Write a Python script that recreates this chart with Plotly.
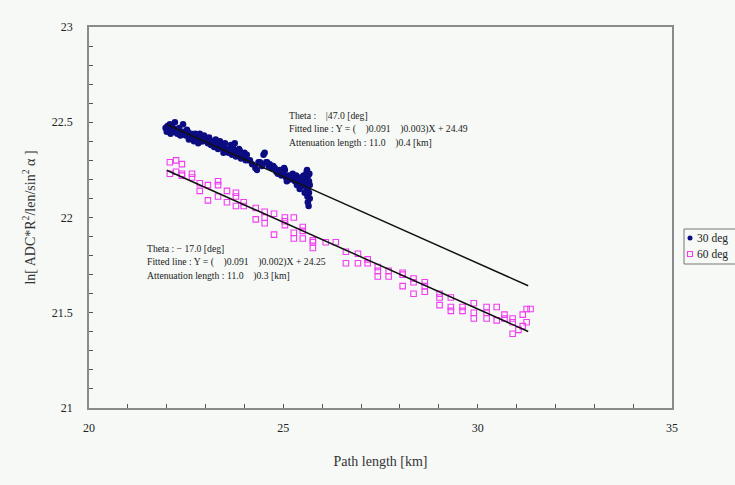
import plotly.graph_objects as go

# 30 deg sample: path length [km] and ln(ADC*R^2/len/sin^2 a)
x30 = [21.97, 22.00, 22.02, 22.05, 22.08, 22.10, 22.13, 22.16, 22.18, 22.21,
       22.24, 22.27, 22.29, 22.32, 22.35, 22.39, 22.42, 22.45, 22.49, 22.52,
       22.54, 22.57, 22.60, 22.63, 22.67, 22.70, 22.73, 22.76, 22.78, 22.81,
       22.85, 22.88, 22.90, 22.93, 22.96, 23.00, 23.03, 23.06, 23.09, 23.11,
       23.14, 23.17, 23.19, 23.22, 23.26, 23.29, 23.32, 23.35, 23.37, 23.40,
       23.42, 23.46, 23.50, 23.53, 23.56, 23.59, 23.62, 23.65, 23.68, 23.70,
       23.73, 23.75, 23.78, 23.80, 23.83, 23.86, 23.88, 23.91, 23.96, 24.00,
       24.03, 24.06, 24.10, 24.14, 24.20, 24.28, 24.32, 24.36, 24.40, 24.45,
       24.49, 24.52, 24.56, 24.58, 24.62, 24.65, 24.70, 24.74, 24.78, 24.82,
       24.86, 24.91, 24.95, 24.99, 25.02, 25.04, 25.07, 25.09, 25.13, 25.17,
       25.21, 25.24, 25.27, 25.30, 25.33, 25.35, 25.37, 25.40, 25.42, 25.45,
       25.48, 25.50, 25.52, 25.55, 25.57, 25.58, 25.60, 25.61, 25.61, 25.62,
       25.63, 25.63, 25.64, 25.65, 25.66, 25.66, 25.67, 25.68, 25.68]
y30 = [22.47, 22.45, 22.48, 22.46, 22.49, 22.44, 22.47, 22.47, 22.45, 22.50,
       22.46, 22.44, 22.45, 22.47, 22.43, 22.44, 22.49, 22.45, 22.43, 22.46,
       22.45, 22.41, 22.42, 22.44, 22.43, 22.40, 22.44, 22.42, 22.41, 22.39,
       22.44, 22.42, 22.40, 22.40, 22.43, 22.41, 22.41, 22.39, 22.42, 22.39,
       22.38, 22.40, 22.40, 22.37, 22.41, 22.38, 22.36, 22.39, 22.40, 22.37,
       22.37, 22.34, 22.39, 22.36, 22.35, 22.34, 22.35, 22.38, 22.33, 22.37,
       22.35, 22.39, 22.32, 22.34, 22.33, 22.36, 22.35, 22.31, 22.32, 22.34,
       22.30, 22.33, 22.30, 22.30, 22.28, 22.26, 22.25, 22.29, 22.29, 22.27,
       22.33, 22.34, 22.29, 22.29, 22.27, 22.28, 22.26, 22.27, 22.26, 22.24,
       22.23, 22.25, 22.22, 22.23, 22.26, 22.25, 22.21, 22.19, 22.22, 22.20,
       22.21, 22.23, 22.20, 22.19, 22.22, 22.17, 22.20, 22.18, 22.15, 22.21,
       22.19, 22.17, 22.22, 22.13, 22.16, 22.20, 22.24, 22.25, 22.18, 22.11,
       22.08, 22.15, 22.22, 22.06, 22.19, 22.13, 22.23, 22.17, 22.10]

# 60 deg sample
x60 = [22.08, 22.08, 22.24, 22.24, 22.39, 22.39, 22.39, 22.65, 22.65,
       22.85, 22.85, 23.06, 23.06, 23.32, 23.32, 23.32, 23.55, 23.55,
       23.78, 23.78, 23.78, 23.98, 23.98, 24.29, 24.29, 24.52, 24.52, 24.52,
       24.76, 24.76, 25.04, 25.04, 25.04, 25.27, 25.27, 25.27, 25.50, 25.50,
       25.50, 25.76, 25.76, 25.76, 26.09, 26.35, 26.61, 26.61, 26.92, 26.92,
       27.17, 27.17, 27.43, 27.43, 27.43, 27.71, 27.71, 28.07, 28.07, 28.07,
       28.35, 28.35, 28.35, 28.64, 28.64, 28.64, 29.02, 29.02, 29.02,
       29.31, 29.31, 29.31, 29.61, 29.61, 29.90, 29.90, 29.90, 30.23, 30.23,
       30.23, 30.49, 30.49, 30.69, 30.69, 30.90, 30.90, 30.90, 31.05, 31.16,
       31.16, 31.26, 31.26, 31.36]
y60 = [22.29, 22.23, 22.30, 22.24, 22.28, 22.23, 22.22, 22.23, 22.21,
       22.18, 22.14, 22.17, 22.09, 22.19, 22.17, 22.11, 22.14, 22.08,
       22.13, 22.11, 22.06, 22.08, 22.06, 22.05, 21.99, 22.03, 22.00, 21.97,
       22.02, 21.91, 22.00, 21.98, 21.96, 22.00, 21.92, 21.89, 21.95, 21.93,
       21.89, 21.88, 21.87, 21.84, 21.87, 21.87, 21.82, 21.76, 21.81, 21.76,
       21.78, 21.76, 21.74, 21.72, 21.69, 21.72, 21.69, 21.71, 21.70, 21.64,
       21.68, 21.66, 21.60, 21.66, 21.64, 21.61, 21.60, 21.58, 21.54,
       21.58, 21.53, 21.51, 21.53, 21.51, 21.55, 21.50, 21.47, 21.53, 21.50,
       21.47, 21.53, 21.46, 21.49, 21.47, 21.47, 21.45, 21.39, 21.41, 21.43,
       21.49, 21.52, 21.45, 21.52]

# Fitted lines Y = slope * X + intercept over the fitted range
fit_slopes = [-0.091, -0.091]
fit_intercepts = [24.49, 24.25]
fit_range = [22.0, 31.3]

x_ticks = [20, 25, 30, 35]
y_ticks = [21, 21.5, 22, 22.5, 23]
series_names = ["30 deg", "60 deg"]

W, H = 735, 485
L, R, T, B = 89, 63, 27, 77          # plot frame margins in px
PW, PH = W - L - R, H - T - B


def px_x(p):
    return (p - L) / PW


def px_y(p):
    return (H - B - p) / PH


serif = "Liberation Serif, Times New Roman, serif"
bg = "#f6f9f6"
navy = "#0c0c82"
magenta = "#f23cf2"

fig = go.Figure()

fig.add_trace(go.Scatter(
    x=x30, y=y30, mode="markers", name=series_names[0], showlegend=False,
    marker=dict(symbol="circle", size=6.5, color=navy, line=dict(width=0)),
))
fig.add_trace(go.Scatter(
    x=x60, y=y60, mode="markers", name=series_names[1], showlegend=False,
    marker=dict(symbol="square-open", size=5.5, color=magenta, line=dict(width=1.1)),
))

for s, b in zip(fit_slopes, fit_intercepts):
    fig.add_trace(go.Scatter(
        x=fit_range, y=[s * v + b for v in fit_range], mode="lines",
        line=dict(color="#111111", width=1.5), showlegend=False, hoverinfo="skip",
    ))

# fit-result notes
note_font = dict(family=serif, size=9.7, color="#222222")
notes = [
    (287, ["Theta :    |47.0 [deg]",
           "Fitted line : Y = (    )0.091    )0.003)X + 24.49",
           "Attenuation length : 11.0    )0.4 [km]"], 115),
    (145, ["Theta : \u2212 17.0 [deg]",
           "Fitted line : Y = (    )0.091    )0.002)X + 24.25",
           "Attenuation length : 11.0    )0.3 [km]"], 248),
]
for px, lines, py in notes:
    for i, t in enumerate(lines):
        fig.add_annotation(
            text=t, xref="paper", yref="paper",
            x=px_x(px), y=px_y(py + 14 * i),
            xanchor="left", yanchor="middle", showarrow=False, font=note_font,
        )

# compact legend box at the right edge
shapes = [
    dict(type="rect", xref="paper", yref="paper",
         x0=px_x(684), x1=px_x(760), y0=px_y(264), y1=px_y(229),
         line=dict(color="#777777", width=1), fillcolor=bg, layer="below"),
    dict(type="circle", xref="paper", yref="paper",
         x0=px_x(687.5), x1=px_x(692.5), y0=px_y(240.5), y1=px_y(235.5),
         line=dict(width=0), fillcolor=navy),
    dict(type="rect", xref="paper", yref="paper",
         x0=px_x(687.5), x1=px_x(692.5), y0=px_y(256.5), y1=px_y(251.5),
         line=dict(color=magenta, width=1.1), fillcolor="rgba(0,0,0,0)"),
]
for i, name in enumerate(series_names):
    fig.add_annotation(
        text=name, xref="paper", yref="paper",
        x=px_x(695), y=px_y(238 + 16 * i), xanchor="left", yanchor="middle",
        showarrow=False, font=dict(family=serif, size=11.5, color="#222222"),
    )

axis_common = dict(
    showline=True, linecolor="#8a8a8a", linewidth=1.5, mirror=True,
    showgrid=False, zeroline=False, ticks="inside", tickcolor="#555555",
    ticklen=4, tickwidth=1, tickfont=dict(family=serif, size=12, color="#222222"),
)

fig.update_xaxes(
    range=[20, 35], tickvals=x_ticks, ticklabelstandoff=8,
    minor=dict(dtick=1, ticks="inside", ticklen=4, tickcolor="#555555"),
    title=dict(text="Path length [km]", font=dict(family=serif, size=14, color="#333333"),
               standoff=22),
    **axis_common,
)
fig.update_yaxes(
    range=[21, 23], tickvals=y_ticks, ticklabelstandoff=12,
    minor=dict(dtick=0.1, ticks="inside", ticklen=4, tickcolor="#555555"),
    title=dict(text="ln[ ADC*R<sup>2</sup>/len/sin<sup>2</sup> \u03b1 ]",
               font=dict(family=serif, size=14, color="#333333"), standoff=13),
    **axis_common,
)

fig.update_layout(
    width=W, height=H,
    margin=dict(l=L, r=R, t=T, b=B, autoexpand=False),
    paper_bgcolor=bg, plot_bgcolor=bg,
    shapes=shapes,
    showlegend=False,
)

fig.write_html("out.html")
